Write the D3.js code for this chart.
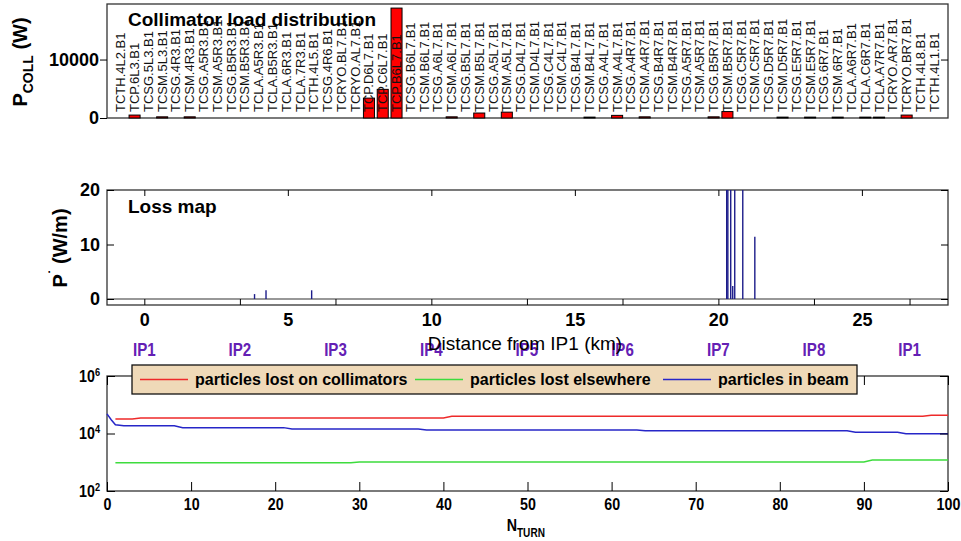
<!DOCTYPE html>
<html>
<head>
<meta charset="utf-8">
<script src="https://d3js.org/d3.v7.min.js"></script>
<style>
body{margin:0;background:#fff;}
svg{display:block;font-family:"Liberation Sans",Arial,sans-serif;}
.narrow text, text.narrow{transform-box:fill-box;transform-origin:center;transform:scaleX(0.84);}
.narrow.yax text{transform-origin:right center;}
.axis path{display:none;}
.axis line{stroke:#000;}
</style>
</head>
<body>
<script>
// top panel: load per collimator (W)
var collimators = ['TCTH.4L2.B1','TCP.6L3.B1','TCSG.5L3.B1','TCSM.5L3.B1','TCSG.4R3.B1','TCSM.4R3.B1',
	'TCSG.A5R3.B1','TCSM.A5R3.B1','TCSG.B5R3.B1','TCSM.B5R3.B1','TCLA.A5R3.B1','TCLA.B5R3.B1',
	'TCLA.6R3.B1','TCLA.7R3.B1','TCTH.4L5.B1','TCSG.4R6.B1','TCRYO.BL7.B1','TCRYO.AL7.B1',
	'TCP.D6L7.B1','TCP.C6L7.B1','TCP.B6L7.B1','TCSG.B6L7.B1','TCSM.B6L7.B1','TCSG.A6L7.B1',
	'TCSM.A6L7.B1','TCSG.B5L7.B1','TCSM.B5L7.B1','TCSG.A5L7.B1','TCSM.A5L7.B1','TCSG.D4L7.B1',
	'TCSM.D4L7.B1','TCSG.C4L7.B1','TCSM.C4L7.B1','TCSG.B4L7.B1','TCSM.B4L7.B1','TCSG.A4L7.B1',
	'TCSM.A4L7.B1','TCSG.A4R7.B1','TCSM.A4R7.B1','TCSG.B4R7.B1','TCSM.B4R7.B1','TCSG.A5R7.B1',
	'TCSM.A5R7.B1','TCSG.B5R7.B1','TCSM.B5R7.B1','TCSG.C5R7.B1','TCSM.C5R7.B1','TCSG.D5R7.B1',
	'TCSM.D5R7.B1','TCSG.E5R7.B1','TCSM.E5R7.B1','TCSG.6R7.B1','TCSM.6R7.B1','TCLA.A6R7.B1',
	'TCLA.C6R7.B1','TCLA.A7R7.B1','TCRYO.AR7.B1','TCRYO.BR7.B1','TCTH.4L8.B1','TCTH.4L1.B1'];
var collLoad = [0,500,0,200,0,200,0,0,0,0,
	0,0,0,0,0,0,0,0,3400,4900,
	18800,0,0,0,200,0,850,0,1000,0,
	0,0,0,0,150,0,450,0,200,0,
	0,0,0,200,1100,0,0,0,150,0,
	150,0,150,0,150,150,0,500,0,0];
var loadTicks = [0,10000];

// middle panel: loss map
var lossKm = [3.84,4.24,5.83,20.29,20.33,20.43,20.50,20.57,20.85,21.27];
var lossW = [0.9,1.6,1.6,48,40,31,2.4,55,27,11.4];
var kmTicks = [0,5,10,15,20,25];
var wmTicks = [0,10,20];
var ipNames = ['IP1','IP2','IP3','IP4','IP5','IP6','IP7','IP8','IP1'];
var ipKm = [0,3.33,6.66,10.0,13.33,16.66,20.0,23.33,26.66];

// bottom panel: particle counts vs turn
var collTurn = [1,3,4,40,41,97,98,100];
var collLost = [32000,32000,34500,34500,39500,39500,43000,43000];
var elseTurn = [1,29,30,90,91,100];
var elseLost = [960,960,1020,1020,1200,1200];
var beamTurn = [0,0.5,1,2,8,9,21,22,37,38,63,64,88,89,94,95,100];
var beamN = [48000,30000,20000,18500,18500,16000,16000,14300,14300,13200,13200,12500,12500,11000,11000,9800,9800];
var turnTicks = [0,10,20,30,40,50,60,70,80,90,100];
var nTicks = [1e2,1e4,1e6];
var legendNames = ['particles lost on collimators','particles lost elsewhere','particles in beam'];
var lineColors = ['#ee2a2a','#3ddc3d','#2626c8'];

var width = 961, height = 541;
var left = 107, right = 948;

var svg = d3.select('body').append('svg')
	.attr('width',width)
	.attr('height',height);

// ---------- top panel ----------
var t0 = 4, t1 = 118;
var xBar = d3.scaleLinear().domain([0,61]).range([left,right]);
var yBar = d3.scaleLinear().domain([0,19500]).range([t1,t0]);
var topPanel = svg.append('g');
topPanel.append('rect')
	.attr('x',left).attr('y',t0)
	.attr('width',right-left).attr('height',t1-t0)
	.attr('fill','#fff').attr('stroke','#333').attr('stroke-width',1.3);
var bw = xBar(0.8)-xBar(0);
topPanel.selectAll('rect.bar')
	.data(collLoad.map((v,i)=>({v:v,i:i})).filter(d=>d.v>0))
	.enter()
	.append('rect')
	.attr('class','bar')
	.attr('x',d=>xBar(d.i+1)-bw/2)
	.attr('y',d=>yBar(d.v))
	.attr('width',bw)
	.attr('height',d=>yBar(0)-yBar(d.v))
	.attr('fill','#ff0000')
	.attr('stroke','#000')
	.attr('stroke-width',1);
topPanel.selectAll('text.coll')
	.data(collimators)
	.enter()
	.append('text')
	.attr('class','coll')
	.attr('transform',(d,i)=>'translate('+xBar(i+1)+','+(t1-6)+') rotate(-90)')
	.attr('dominant-baseline','central')
	.attr('font-size',13)
	.attr('fill','#111')
	.text(d=>d);
topPanel.append('g')
	.attr('class','axis')
	.attr('transform','translate('+left+',0)')
	.call(d3.axisLeft(yBar).tickValues(loadTicks).tickFormat(d3.format('d')).tickSizeInner(7).tickSizeOuter(0).tickPadding(1))
	.selectAll('text').attr('font-size',18).attr('font-weight','bold').attr('font-family','Liberation Sans, Arial');
topPanel.append('g')
	.attr('class','axis')
	.attr('transform','translate('+right+',0)')
	.call(d3.axisRight(yBar).tickValues([10000]).tickSizeInner(-7).tickSizeOuter(0).tickFormat(''));
topPanel.append('text')
	.attr('x',128).attr('y',26)
	.attr('font-size',19).attr('font-weight','bold')
	.text('Collimator load distribution');
var yl1 = topPanel.append('text')
	.attr('transform','translate(27,62) rotate(-90)')
	.attr('text-anchor','middle')
	.attr('font-size',20).attr('font-weight','bold');
yl1.append('tspan').text('P');
yl1.append('tspan').attr('font-size',14).attr('dy',6).text('COLL');
yl1.append('tspan').attr('dy',-6).text(' (W)');

// ---------- middle panel ----------
var m0 = 190, m1 = 305;
var xKm = d3.scaleLinear().domain([-1.3,28.0]).range([left,right]);
var yW = d3.scaleLinear().domain([-1.1,20]).range([m1,m0]).clamp(true);
var mid = svg.append('g');
mid.append('rect')
	.attr('x',left).attr('y',m0)
	.attr('width',right-left).attr('height',m1-m0)
	.attr('fill','#fff').attr('stroke','#333').attr('stroke-width',1.3);
mid.append('line')
	.attr('x1',left).attr('x2',right)
	.attr('y1',yW(0)).attr('y2',yW(0))
	.attr('stroke','#333').attr('stroke-width',1.2);
mid.selectAll('line.loss')
	.data(lossKm)
	.enter()
	.append('line')
	.attr('class','loss')
	.attr('x1',d=>xKm(d)).attr('x2',d=>xKm(d))
	.attr('y1',yW(0))
	.attr('y2',(d,i)=>yW(lossW[i]))
	.attr('stroke','#1c1c8a')
	.attr('stroke-width',1.4);
mid.append('g')
	.attr('class','axis')
	.attr('transform','translate(0,'+m1+')')
	.call(d3.axisBottom(xKm).tickValues(kmTicks).tickSize(0).tickPadding(8))
	.selectAll('text').attr('font-size',18).attr('font-weight','bold').attr('font-family','Liberation Sans, Arial');
mid.append('g')
	.attr('class','axis')
	.attr('transform','translate(0,'+m1+')')
	.call(d3.axisBottom(xKm).tickValues(ipKm).tickSizeInner(-6).tickSizeOuter(0).tickFormat(''));
mid.append('g')
	.attr('class','axis')
	.attr('transform','translate(0,'+m0+')')
	.call(d3.axisTop(xKm).tickValues(kmTicks).tickSizeInner(-6).tickSizeOuter(0).tickFormat(''));
mid.append('g')
	.attr('class','axis')
	.attr('transform','translate('+left+',0)')
	.call(d3.axisLeft(yW).tickValues(wmTicks).tickSizeInner(-7).tickSizeOuter(0).tickPadding(7))
	.selectAll('text').attr('font-size',18).attr('font-weight','bold').attr('font-family','Liberation Sans, Arial');
mid.append('g')
	.attr('class','axis')
	.attr('transform','translate('+right+',0)')
	.call(d3.axisRight(yW).tickValues(wmTicks).tickSizeInner(-7).tickSizeOuter(0).tickFormat(''));
mid.append('text')
	.attr('x',128).attr('y',213)
	.attr('font-size',19).attr('font-weight','bold')
	.text('Loss map');
var yl2 = mid.append('text')
	.attr('transform','translate(67,248) rotate(-90)')
	.attr('text-anchor','middle')
	.attr('font-size',20).attr('font-weight','bold');
yl2.append('tspan').text('P');
yl2.append('tspan').attr('dy',-8).attr('font-size',14).text('\u02D9');
yl2.append('tspan').attr('dy',8).text(' (W/m)');
mid.selectAll('text.ip')
	.data(ipNames)
	.enter()
	.append('text')
	.attr('class','ip narrow')
	.attr('x',(d,i)=>xKm(ipKm[i]))
	.attr('y',356)
	.attr('text-anchor','middle')
	.attr('font-size',18).attr('font-weight','bold')
	.attr('fill','#6420b4')
	.text(d=>d);
mid.append('text')
	.attr('x',525).attr('y',350)
	.attr('text-anchor','middle')
	.attr('font-size',19)
	.text('Distance from IP1 (km)');

// ---------- bottom panel ----------
var b0 = 376, b1 = 491;
var xT = d3.scaleLinear().domain([0,100]).range([left,right]);
var yN = d3.scaleLog().domain([1e2,1e6]).range([b1,b0]);
var bot = svg.append('g');
bot.append('rect')
	.attr('x',left).attr('y',b0)
	.attr('width',right-left).attr('height',b1-b0)
	.attr('fill','#fff').attr('stroke','#333').attr('stroke-width',1.3);
var series = [[collTurn,collLost],[elseTurn,elseLost],[beamTurn,beamN]];
var line = d3.line().x(d=>xT(d[0])).y(d=>yN(d[1]));
bot.selectAll('path.series')
	.data(series)
	.enter()
	.append('path')
	.attr('class','series')
	.attr('d',s=>line(s[0].map((t,i)=>[t,s[1][i]])))
	.attr('fill','none')
	.attr('stroke',(d,i)=>lineColors[i])
	.attr('stroke-width',1.5);
bot.append('g')
	.attr('class','axis narrow')
	.attr('transform','translate(0,'+b1+')')
	.call(d3.axisBottom(xT).tickValues(turnTicks).tickSizeInner(-9).tickSizeOuter(0).tickPadding(7))
	.selectAll('text').attr('font-size',17).attr('font-weight','bold');
bot.append('g')
	.attr('class','axis')
	.attr('transform','translate(0,'+b0+')')
	.call(d3.axisTop(xT).tickValues(turnTicks).tickSizeInner(-9).tickSizeOuter(0).tickFormat(''));
var yAx = bot.append('g')
	.attr('class','axis narrow yax')
	.attr('transform','translate('+left+',0)')
	.call(d3.axisLeft(yN).tickValues(nTicks).tickSizeInner(-8).tickSizeOuter(0).tickPadding(7));
yAx.selectAll('.tick text').each(function(d){
	var t = d3.select(this).text(null).attr('font-size',17).attr('font-weight','bold');
	t.append('tspan').text('10');
	t.append('tspan').attr('dy','-0.55em').attr('font-size',11).text(Math.round(Math.log10(d)));
});
bot.append('g')
	.attr('class','axis')
	.attr('transform','translate('+right+',0)')
	.call(d3.axisRight(yN).tickValues(nTicks).tickSizeInner(-8).tickSizeOuter(0).tickFormat(''));
var xl = bot.append('text')
	.attr('class','narrow')
	.attr('x',503).attr('y',531)
	.attr('font-size',17).attr('font-weight','bold');
xl.append('tspan').text('N');
xl.append('tspan').attr('dy',6).attr('font-size',12).text('TURN');

// legend
var legend = bot.append('g');
legend.append('rect')
	.attr('x',132).attr('y',365)
	.attr('width',725).attr('height',29)
	.attr('fill','#efd9b8')
	.attr('stroke','#111').attr('stroke-width',1.3);
var legX = [140,415,663];
var legItem = legend.selectAll('g.item')
	.data(legendNames)
	.enter()
	.append('g')
	.attr('class','item')
	.attr('transform',(d,i)=>'translate('+legX[i]+',0)');
legItem.append('line')
	.attr('x1',0).attr('x2',48)
	.attr('y1',379.5).attr('y2',379.5)
	.attr('stroke',(d,i)=>lineColors[i])
	.attr('stroke-width',1.5);
legItem.append('text')
	.attr('x',55).attr('y',385)
	.attr('font-size',16).attr('font-weight','bold')
	.text(d=>d);
</script>
</body>
</html>
